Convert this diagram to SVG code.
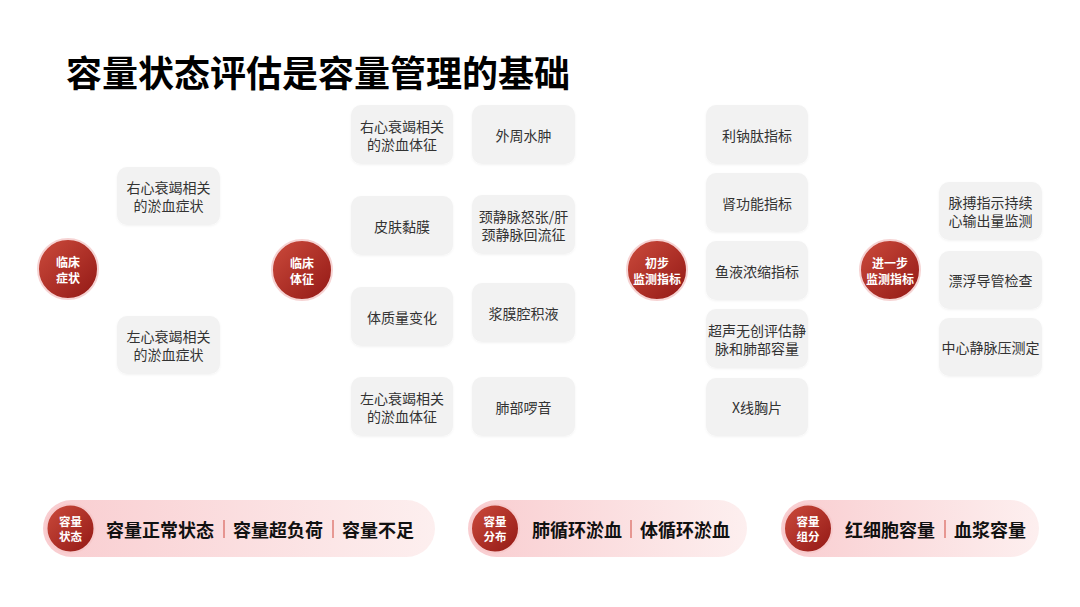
<svg xmlns="http://www.w3.org/2000/svg" width="1080" height="607" viewBox="0 0 1080 607">
<defs>
<linearGradient id="cg" x1="0" y1="0" x2="1" y2="1">
<stop offset="0" stop-color="#cc4b3c"/>
<stop offset="1" stop-color="#921815"/>
</linearGradient>
<linearGradient id="pg" x1="0" y1="0" x2="1" y2="0">
<stop offset="0" stop-color="#f9cdd0"/>
<stop offset="1" stop-color="#fdefef"/>
</linearGradient>
<filter id="sh" x="-20%" y="-20%" width="140%" height="140%">
<feDropShadow dx="0" dy="1" stdDeviation="1" flood-color="#000" flood-opacity="0.05"/>
</filter>
</defs>
<style>
text{font-family:"Noto Sans CJK SC","Noto Sans",sans-serif;}
.box{fill:#f2f2f2;filter:url(#sh);}
.bt{font-size:14px;fill:#333;text-anchor:middle;dominant-baseline:central;}
.hub{fill:url(#cg);stroke:#f6d3d3;stroke-width:2;}
.ht{font-size:12px;fill:#fff;font-weight:bold;text-anchor:middle;dominant-baseline:central;}
.pill{fill:url(#pg);}
.pc{fill:url(#cg);stroke:#f7c9cb;stroke-width:2;}
.pct{font-size:11.5px;fill:#fff;font-weight:bold;text-anchor:middle;dominant-baseline:central;}
.pt{font-size:18px;fill:#111;font-weight:bold;dominant-baseline:central;}
.sep{stroke:#d9645c;stroke-width:1.2;}
.title{font-size:36px;font-weight:bold;fill:#000;dominant-baseline:central;}
</style>
<rect width="1080" height="607" fill="#fff"/>
<text class="title" x="66" y="71">容量状态评估是容量管理的基础</text>

<g id="connectors"></g>

<g id="hub-symptom"><circle class="hub" cx="68" cy="269" r="30"/><text class="ht" x="68" y="261">临床<tspan x="68" dy="16">症状</tspan></text></g>
<g id="n-right-symptom"><rect class="box" x="117" y="167" width="103" height="58" rx="10"/><text class="bt" x="168.5" y="187">右心衰竭相关<tspan x="168.5" dy="18">的淤血症状</tspan></text></g>
<g id="n-left-symptom"><rect class="box" x="117" y="316" width="103" height="58" rx="10"/><text class="bt" x="168.5" y="336">左心衰竭相关<tspan x="168.5" dy="18">的淤血症状</tspan></text></g>

<g id="hub-sign"><circle class="hub" cx="302" cy="270" r="30"/><text class="ht" x="302" y="262">临床<tspan x="302" dy="16">体征</tspan></text></g>
<g id="n-right-sign"><rect class="box" x="351" y="105" width="102" height="59" rx="10"/><text class="bt" x="402" y="125.5">右心衰竭相关<tspan x="402" dy="18">的淤血体征</tspan></text></g>
<g id="n-skin"><rect class="box" x="351" y="196" width="102" height="59" rx="10"/><text class="bt" x="402" y="225.5">皮肤黏膜</text></g>
<g id="n-weight"><rect class="box" x="351" y="287" width="102" height="59" rx="10"/><text class="bt" x="402" y="316.5">体质量变化</text></g>
<g id="n-left-sign"><rect class="box" x="351" y="377" width="102" height="59" rx="10"/><text class="bt" x="402" y="397.5">左心衰竭相关<tspan x="402" dy="18">的淤血体征</tspan></text></g>
<g id="n-edema"><rect class="box" x="472" y="105" width="103" height="59" rx="10"/><text class="bt" x="523.5" y="134.5">外周水肿</text></g>
<g id="n-jugular"><rect class="box" x="472" y="195" width="103" height="59" rx="10"/><text class="bt" x="523.5" y="215.5">颈静脉怒张/肝<tspan x="523.5" dy="18">颈静脉回流征</tspan></text></g>
<g id="n-serous"><rect class="box" x="472" y="283" width="103" height="59" rx="10"/><text class="bt" x="523.5" y="312.5">浆膜腔积液</text></g>
<g id="n-rales"><rect class="box" x="472" y="377" width="103" height="59" rx="10"/><text class="bt" x="523.5" y="406.5">肺部啰音</text></g>

<g id="hub-initial"><circle class="hub" cx="657" cy="270" r="30"/><text class="ht" x="657" y="262">初步<tspan x="657" dy="16">监测指标</tspan></text></g>
<g id="n-bnp"><rect class="box" x="706" y="105" width="102" height="59" rx="10"/><text class="bt" x="757" y="134.5">利钠肽指标</text></g>
<g id="n-renal"><rect class="box" x="706" y="173" width="102" height="59" rx="10"/><text class="bt" x="757" y="202.5">肾功能指标</text></g>
<g id="n-hemo"><rect class="box" x="706" y="241" width="102" height="59" rx="10"/><text class="bt" x="757" y="270.5">鱼液浓缩指标</text></g>
<g id="n-us"><rect class="box" x="706" y="309" width="102" height="59" rx="10"/><text class="bt" x="757" y="329.5">超声无创评估静<tspan x="757" dy="18">脉和肺部容量</tspan></text></g>
<g id="n-xray"><rect class="box" x="706" y="378" width="102" height="58" rx="10"/><text class="bt" x="757" y="407">X线胸片</text></g>

<g id="hub-further"><circle class="hub" cx="890" cy="270" r="30"/><text class="ht" x="890" y="262">进一步<tspan x="890" dy="16">监测指标</tspan></text></g>
<g id="n-picco"><rect class="box" x="939" y="182" width="103" height="58" rx="10"/><text class="bt" x="990.5" y="202">脉搏指示持续<tspan x="990.5" dy="18">心输出量监测</tspan></text></g>
<g id="n-swan"><rect class="box" x="939" y="251" width="103" height="58" rx="10"/><text class="bt" x="990.5" y="280">漂浮导管检查</text></g>
<g id="n-cvp"><rect class="box" x="939" y="318" width="103" height="58" rx="10"/><text class="bt" x="990.5" y="347">中心静脉压测定</text></g>

<g id="pill-status">
<rect class="pill" x="43" y="500" width="392" height="57" rx="28.5"/>
<circle class="pc" cx="70.5" cy="528.5" r="24"/>
<text class="pct" x="70.5" y="521">容量<tspan x="70.5" dy="15">状态</tspan></text>
<text class="pt" x="106" y="528.5">容量正常状态</text>
<line class="sep" x1="224" y1="520" x2="224" y2="538"/>
<text class="pt" x="233" y="528.5">容量超负荷</text>
<line class="sep" x1="333" y1="520" x2="333" y2="538"/>
<text class="pt" x="342" y="528.5">容量不足</text>
</g>
<g id="pill-distribution">
<rect class="pill" x="468" y="500" width="279" height="57" rx="28.5"/>
<circle class="pc" cx="495" cy="528.5" r="24"/>
<text class="pct" x="495" y="521">容量<tspan x="495" dy="15">分布</tspan></text>
<text class="pt" x="532" y="528.5">肺循环淤血</text>
<line class="sep" x1="631" y1="520" x2="631" y2="538"/>
<text class="pt" x="640" y="528.5">体循环淤血</text>
</g>
<g id="pill-composition">
<rect class="pill" x="781" y="500" width="258" height="57" rx="28.5"/>
<circle class="pc" cx="808" cy="528.5" r="24"/>
<text class="pct" x="808" y="521">容量<tspan x="808" dy="15">组分</tspan></text>
<text class="pt" x="845" y="528.5">红细胞容量</text>
<line class="sep" x1="945" y1="520" x2="945" y2="538"/>
<text class="pt" x="954" y="528.5">血浆容量</text>
</g>
</svg>
